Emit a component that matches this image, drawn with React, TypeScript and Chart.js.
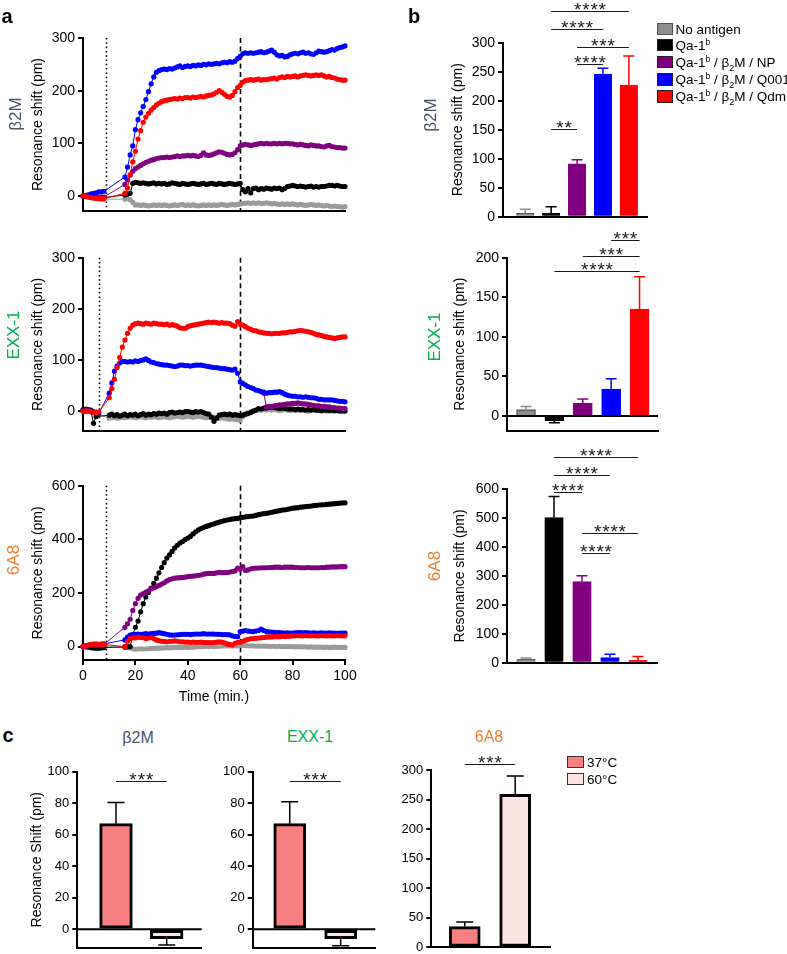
import React, { useEffect, useRef } from "react";
import { Chart, registerables } from "chart.js";

Chart.register(...registerables);

const FONT = '"Liberation Sans", Arial, Helvetica, sans-serif';

// ---------- a: binding traces, one reading per minute ----------
const minutes = [
  0, 1, 2, 3, 4, 5, 6, 7, 8, 9,
  10, 11, 12, 13, 14, 15, 16, 17, 18, 19,
  20, 21, 22, 23, 24, 25, 26, 27, 28, 29,
  30, 31, 32, 33, 34, 35, 36, 37, 38, 39,
  40, 41, 42, 43, 44, 45, 46, 47, 48, 49,
  50, 51, 52, 53, 54, 55, 56, 57, 58, 59,
  60, 61, 62, 63, 64, 65, 66, 67, 68, 69,
  70, 71, 72, 73, 74, 75, 76, 77, 78, 79,
  80, 81, 82, 83, 84, 85, 86, 87, 88, 89,
  90, 91, 92, 93, 94, 95, 96, 97, 98, 99,
  100,
];

// β2M antibody
const b2mNoAntigen = [
  0, -1, -2, -3, -4, -5, -5, -6, -6, null,
  null, null, null, null, null, null, -6, -5, -7, -12,
  -17, -17, -18, -17, -18, -19, -18, -17, -18, -17,
  -18, -17, -18, -19, -18, -17, -18, -17, -16, -18,
  -17, -18, -17, -18, -19, -18, -17, -18, -17, -18,
  -17, -18, -17, -16, -17, -18, -17, -16, -17, -16,
  -15, -14, -14, -13, -14, -13, -14, -13, -14, -14,
  -13, -14, -15, -14, -15, -16, -15, -16, -15, -16,
  -15, -16, -17, -16, -17, -18, -17, -16, -17, -18,
  -17, -18, -19, -18, -19, -20, -19, -20, -20, -21,
  -20,
];
const b2mQa1b = [
  0, 0, -1, -2, -2, -3, -3, -3, -3, null,
  null, null, null, null, null, null, 2, 4, 5, 24,
  26, 25, 24, 25, 24, 23, 24, 25, 23, 24,
  23, 24, 22, 23, 25, 24, 23, 22, 24, 23,
  22, 23, 24, 23, 22, 23, 24, 22, 23, 24,
  23, 22, 24, 23, 22, 23, 24, 23, 22, 23,
  24, 12, 8, 14, 6, 14, 15, 12, 14, 13,
  15, 14, 13, 15, 14, 15, 12, 14, 18, 19,
  20, 19, 18, 19, 18, 17, 18, 19, 17, 18,
  17, 18, 18, 19, 20, 20, 19, 20, 19, 18,
  18,
];
const b2mNP = [
  0, 0, 0, -1, -1, -2, -2, -2, -2, null,
  null, null, null, null, null, null, 22, 30, 40, 47,
  52, 55, 58, 61, 64, 66, 68, 69, 71, 72,
  73, 73, 74, 73, 74, 75, 76, 75, 76, 76,
  77, 76, 77, 76, 75, 77, 82, 78, 77, 78,
  80, 82, 84, 83, 81, 79, 78, 79, 82, 88,
  95, 97, 98, 97, 96, 97, 98, 99, 100, 99,
  100, 99, 99, 100, 99, 100, 99, 100, 100, 99,
  99, 98, 97, 98, 97, 96, 95, 97, 96, 95,
  95, 94, 93, 95, 96, 94, 93, 92, 92, 91,
  91,
];
const b2mQ001 = [
  0, 1, 2, 4, 5, 6, 8, 8, 9, null,
  null, null, null, null, null, null, 36, 55, 78, 95,
  126, 145, 158, 170, 183, 198, 213, 226, 235, 238,
  240, 241, 240, 242, 241, 243, 245, 247, 244, 246,
  247, 246, 248, 247, 249, 248, 250, 249, 251, 250,
  251, 252, 251, 253, 254, 253, 255, 254, 256, 261,
  265, 270, 272, 271, 272, 271, 272, 273, 274, 272,
  273, 275, 277, 273, 268, 266, 267, 264, 265, 268,
  270, 271, 270, 272, 273, 271, 272, 270, 269, 272,
  275, 274, 273, 274, 276, 278, 277, 280, 282, 283,
  285,
];
const b2mQdm = [
  0, 0, -2, -3, -4, -4, -5, -5, -5, null,
  null, null, null, null, null, null, 5, 15, 40, 65,
  85, 108, 124, 140, 150, 157, 163, 168, 173, 176,
  179, 181, 182, 183, 184, 185, 184, 186, 185, 187,
  187, 186, 188, 187, 188, 189, 188, 190, 191, 192,
  194, 197, 200, 197, 193, 189, 188, 191, 198, 206,
  210, 216, 219, 220, 221, 220, 221, 222, 220, 221,
  221, 222, 223, 224, 222, 225, 226, 225, 227, 226,
  227, 228, 226, 228, 229, 230, 229, 228, 229, 230,
  229, 230, 228, 226, 227, 225, 224, 222, 221, 220,
  220,
];

// EXX-1 antibody
const exxNoAntigen = [
  0, -1, 0, -2, -3, -5, null, null, null, null,
  -14, -13, -12, -14, -13, -12, -13, -12, -11, -12,
  -13, -12, -11, -12, -13, -11, -12, -11, -12, -13,
  -12, -11, -12, -13, -12, -11, -10, -11, -12, -11,
  -10, -11, -12, -11, -10, -11, -12, -13, -12, -13,
  -12, -13, -14, -13, -14, -15, -16, -15, -16, -17,
  -18, -11, -6, -3, -1, 0, 1, 2, 2, 3,
  2, 3, 2, 3, 2, 1, 2, 3, 2, 1,
  2, 1, 2, 1, 2, 1, 0, 1, 2, 1,
  1, 0, 1, 0, 1, 0, 0, 1, 0, -1,
  0,
];
const exxQa1b = [
  3, 4, 3, 2, -24, -11, null, null, null, null,
  -8, -6, -9, -7, -10, -8, -6, -9, -7, -8,
  -6, -9, -7, -5, -8, -6, -7, -5, -6, -4,
  -5, -4, -6, -3, -2, -4, -3, -2, -3, -1,
  -1, -2, -3, -1, -2, -1, -3, -5, -6, -12,
  -20, -14, -8, -7, -6, -7, -6, -8, -7, -8,
  -9, -8, -6, -5, -3, 0, 2, 5, 4, 6,
  6, 7, 8, 7, 6, 5, 6, 5, 4, 4,
  4, 3, 4, 3, 3, 2, 3, 2, 3, 2,
  2, 1, 2, 2, 1, 2, 1, 1, 0, 1,
  0,
];
const exxNP = [
  null, null, null, null, null, null, null, null, null, null,
  null, null, null, null, null, null, null, null, null, null,
  null, null, null, null, null, null, null, null, null, null,
  null, null, null, null, null, null, null, null, null, null,
  null, null, null, null, null, null, null, null, null, null,
  null, null, null, null, null, null, null, null, null, null,
  null, null, null, null, null, null, null, null, null, 35,
  8, 9, 8, 10, 11, 12, 12, 13, 14, 14,
  15, 15, 16, 15, 14, 14, 13, 12, 11, 10,
  10, 9, 9, 8, 8, 7, 7, 6, 6, 5,
  5,
];
const exxQ001 = [
  0, 0, 1, 0, -1, -2, -5, null, null, null,
  35, 55, 78, 88, 94, 97, 97, 96, 97, 96,
  98, 97, 99, 100, 102, 99, 96, 95, 93, 92,
  91, 90, 90, 89, 88, 87, 88, 90, 90, 89,
  89, 88, 89, 90, 90, 90, 89, 88, 87, 86,
  85, 85, 84, 83, 83, 82, 81, 80, 82, 74,
  57, 54, 51, 48, 46, 44, 41, 40, 38, 37,
  35, 36, 36, 37, 37, 38, 36, 33, 31, 30,
  29, 29, 28, 28, 27, 28, 27, 26, 26, 25,
  23, 23, 22, 22, 22, 22, 21, 20, 19, 19,
  18,
];
const exxQdm = [
  0, 1, 0, -1, -2, -3, -2, null, null, null,
  26, 44, 62, 85, 105, 125, 139, 152, 162, 168,
  171, 172, 171, 170, 172, 171, 170, 172, 171, 170,
  170, 169, 170, 168, 169, 168, 166, 163, 162, 162,
  165, 167, 168, 169, 170, 171, 172, 173, 174, 173,
  174, 173, 172, 173, 172, 172, 171, 168, 166, 175,
  170, 168, 165, 162, 160, 158, 157, 155, 154, 153,
  152, 152, 151, 152, 152, 152, 153, 153, 154, 155,
  155, 156, 157, 158, 157, 156, 155, 154, 152, 150,
  149, 148, 146, 145, 144, 143, 142, 143, 144, 145,
  145,
];

// 6A8 antibody
const mabNoAntigen = [
  0, 1, 2, 2, 3, 2, 3, 2, 2, null,
  null, null, null, null, null, null, 0, -2, -5, -8,
  -10, -9, -8, -9, -8, -8, -7, -7, -6, -6,
  -5, -5, -4, -4, -4, -3, -3, -3, -3, -2,
  -3, -2, -2, -1, -1, 0, 0, 1, 0, 1,
  0, 1, 2, 2, 3, 3, 3, 2, 3, 3,
  5, 4, 4, 3, 3, 3, 2, 2, 2, 2,
  2, 1, 1, 1, 0, 1, 0, 0, 0, 0,
  0, -1, 0, -1, -1, -1, -2, -1, -2, -2,
  -2, -2, -3, -2, -3, -3, -2, -3, -3, -3,
  -3,
];
const mabQa1b = [
  0, -1, -2, -4, -5, -6, -6, -5, -3, null,
  null, null, null, null, null, null, -2, -1, 0, 45,
  72, 95, 130, 160, 185, 202, 218, 236, 255, 275,
  295, 313, 330, 342, 355, 368, 378, 386, 392, 399,
  405, 411, 420, 428, 435, 440, 444, 448, 451, 455,
  458, 461, 464, 467, 470, 472, 474, 476, 477, 478,
  481, 482, 484, 485, 486, 487, 489, 492, 494, 496,
  497, 499, 501, 503, 505, 507, 509, 510, 512, 514,
  516, 517, 518, 520, 521, 522, 523, 524, 526, 527,
  528, 529, 529, 530, 531, 532, 533, 534, 535, 536,
  536,
];
const mabNP = [
  0, 2, 3, 5, 6, 5, 6, 7, 8, null,
  null, null, null, null, null, null, 72, 85, 102, 135,
  160, 180, 192, 198, 203, 208, 215, 219, 223, 228,
  233, 238, 245, 250, 253, 255, 256, 257, 258, 259,
  261, 262, 263, 264, 266, 267, 270, 272, 273, 273,
  273, 275, 277, 276, 276, 276, 278, 280, 282, 293,
  288, 298, 284, 286, 290, 292, 293, 293, 294, 294,
  294, 295, 295, 296, 296, 296, 295, 296, 296, 296,
  296, 295, 295, 294, 294, 294, 295, 294, 294, 294,
  294, 295, 295, 296, 296, 297, 297, 297, 298, 298,
  298,
];
const mabQ001 = [
  0, 3, 5, 7, 8, 9, 8, 9, 10, null,
  null, null, null, null, null, null, 25, 35, 43, 45,
  46, 47, 46, 47, 48, 47, 48, 49, 50, 52,
  50, 48, 46, 44, 43, 43, 44, 45, 46, 46,
  46, 45, 46, 47, 47, 47, 48, 47, 47, 47,
  47, 46, 46, 45, 45, 45, 44, 40, 38, 37,
  56, 58, 60, 58, 57, 56, 58, 60, 65, 60,
  56, 55, 54, 53, 52, 52, 51, 50, 51, 50,
  50, 51, 52, 52, 51, 52, 51, 50, 51, 50,
  50, 51, 50, 50, 51, 50, 50, 49, 50, 50,
  50,
];
const mabQdm = [
  0, 4, 6, 8, 9, 9, 8, 9, 8, null,
  null, null, null, null, null, null, 0, 20, 30, 33,
  32, 35, 34, 33, 30, 32, 34, 30, 25, 22,
  20, 19, 18, 19, 20, 21, 20, 18, 18, 17,
  17, 16, 17, 16, 16, 17, 16, 15, 15, 15,
  15, 17, 18, 17, 14, 10, 8, 6, 12, 16,
  16, 20, 24, 27, 29, 30, 31, 32, 33, 34,
  35, 36, 36, 37, 37, 37, 38, 38, 39, 39,
  40, 40, 41, 40, 40, 41, 40, 40, 41, 40,
  40, 41, 40, 40, 41, 40, 40, 41, 40, 40,
  40,
];

// injection (dotted) and wash (dashed) times, minutes
const injectionAt = [8.8, 6, 8.8];
const washAt = 60;

const traceTicks300 = [0, 100, 200, 300];
const traceTicks600 = [0, 200, 400, 600];
const timeTicks = [0, 20, 40, 60, 80, 100];

// ---------- b: end-point responses per antigen ----------
const groups = [
  "No antigen",
  "Qa-1b",
  "Qa-1b / β2M / NP",
  "Qa-1b / β2M / Q001",
  "Qa-1b / β2M / Qdm",
];
const groupFill = ["#8e8e8e", "#000000", "#800080", "#0000ff", "#ff0000"];
const groupEdge = ["#5e5e5e", "#000000", "#800080", "#0000ff", "#ff0000"];
const traceColor = ["#9b9b9b", "#000000", "#800080", "#0000ff", "#ff0000"];

const b2mMeans = [6, 6, 91, 246, 227];
const b2mSD = [7, 11, 7, 10, 50];
const exxMeans = [8, -6, 16, 34, 135];
const exxSD = [4, 2.5, 5.5, 13, 41];
const mabMeans = [12, 501, 280, 18, 8];
const mabSD = [4.5, 73, 20, 11, 13];

type Sig = { from: number; to: number; y: number; stars: string };
const b2mSig: Sig[] = [
  { from: 1, to: 4, y: 355, stars: "****" },
  { from: 1, to: 3, y: 323, stars: "****" },
  { from: 2, to: 4, y: 293, stars: "***" },
  { from: 2, to: 3, y: 263, stars: "****" },
  { from: 1, to: 2, y: 151, stars: "**" },
];
const exxSig: Sig[] = [
  { from: 3, to: 4, y: 222, stars: "***" },
  { from: 2, to: 4, y: 202.5, stars: "***" },
  { from: 1, to: 4, y: 182.6, stars: "****" },
];
const mabSig: Sig[] = [
  { from: 1, to: 4, y: 710, stars: "****" },
  { from: 1, to: 3, y: 649, stars: "****" },
  { from: 1, to: 2, y: 589, stars: "****" },
  { from: 2, to: 4, y: 447, stars: "****" },
  { from: 2, to: 3, y: 378, stars: "****" },
];

const b2mBarTicks = [0, 50, 100, 150, 200, 250, 300];
const exxBarTicks = [0, 50, 100, 150, 200];
const mabBarTicks = [0, 100, 200, 300, 400, 500, 600];

// ---------- c: heat treatment ----------
const temps = ["37°C", "60°C"];
const tempFill = ["#f98080", "#fde0e0"];
const heatB2m = [67, -6];
const heatB2mSD = [13.5, 4];
const heatExx = [67, -6];
const heatExxSD = [14, 4.5];
const heatMab = [35, 259];
const heatMabSD = [8, 31];
const heatB2mSig: Sig[] = [{ from: 0, to: 1, y: 94, stars: "***" }];
const heatExxSig: Sig[] = [{ from: 0, to: 1, y: 94, stars: "***" }];
const heatMabSig: Sig[] = [{ from: 0, to: 1, y: 310, stars: "***" }];
const heatTicks100 = [0, 20, 40, 60, 80, 100];
const heatTicks300 = [0, 50, 100, 150, 200, 250, 300];

const TITLE_COLORS = { b2m: "#44546a", exx: "#00b050", mab: "#ed7d31" };

// ---------- plugins ----------
function phaseLines(start: number, wash: number) {
  return {
    id: "phaseLines",
    beforeDatasetsDraw(chart: any) {
      const { ctx, chartArea, scales } = chart;
      const draw = (t: number, dash: number[]) => {
        const px = Math.round(scales.x.getPixelForValue(t)) + 0.5;
        ctx.save();
        ctx.strokeStyle = "#000";
        ctx.lineWidth = 1.6;
        ctx.setLineDash(dash);
        ctx.beginPath();
        ctx.moveTo(px, chartArea.top);
        ctx.lineTo(px, chartArea.bottom);
        ctx.stroke();
        ctx.restore();
      };
      draw(start, [1.5, 2.8]);
      draw(wash, [5, 3.5]);
    },
  };
}

function errorBars(means: number[], sds: number[], colors: string[], cap: number, width: number) {
  return {
    id: "errorBars",
    afterDatasetsDraw(chart: any) {
      const { ctx, scales } = chart;
      const meta = chart.getDatasetMeta(0);
      ctx.save();
      ctx.lineWidth = width;
      meta.data.forEach((bar: any, i: number) => {
        const v = means[i];
        const tip = v >= 0 ? v + sds[i] : v - sds[i];
        const y0 = scales.y.getPixelForValue(v);
        const y1 = scales.y.getPixelForValue(tip);
        ctx.strokeStyle = colors[i];
        ctx.beginPath();
        ctx.moveTo(bar.x, y0);
        ctx.lineTo(bar.x, y1);
        ctx.moveTo(bar.x - cap / 2, y1);
        ctx.lineTo(bar.x + cap / 2, y1);
        ctx.stroke();
      });
      ctx.restore();
    },
  };
}

const zeroLine = {
  id: "zeroLine",
  afterDatasetsDraw(chart: any) {
    const { ctx, chartArea, scales } = chart;
    const y = scales.y.getPixelForValue(0);
    ctx.save();
    ctx.strokeStyle = "#000";
    ctx.lineWidth = 2;
    ctx.beginPath();
    ctx.moveTo(chartArea.left, y);
    ctx.lineTo(chartArea.right, y);
    ctx.stroke();
    ctx.restore();
  },
};

function sigBrackets(marks: Sig[], st: { size: number; step: number; lift: number }) {
  return {
    id: "sigBrackets",
    afterDraw(chart: any) {
      const { ctx, scales } = chart;
      ctx.save();
      ctx.strokeStyle = "#1a1a1a";
      ctx.fillStyle = "#1a1a1a";
      ctx.lineWidth = 1;
      ctx.font = `${st.size}px ${FONT}`;
      ctx.textAlign = "center";
      ctx.textBaseline = "alphabetic";
      const m = ctx.measureText("*");
      const mid = (m.actualBoundingBoxAscent - m.actualBoundingBoxDescent) / 2;
      for (const mk of marks) {
        const x1 = scales.x.getPixelForValue(mk.from);
        const x2 = scales.x.getPixelForValue(mk.to);
        const y = Math.round(scales.y.getPixelForValue(mk.y)) + 0.5;
        ctx.beginPath();
        ctx.moveTo(x1, y);
        ctx.lineTo(x2, y);
        ctx.stroke();
        const n = mk.stars.length;
        const cx = (x1 + x2) / 2;
        const base = y - st.lift + mid;
        for (let k = 0; k < n; k++) {
          ctx.fillText("*", cx + (k - (n - 1) / 2) * st.step, base);
        }
      }
      ctx.restore();
    },
  };
}

// ---------- axis helpers ----------
function valueAxis(
  min: number,
  max: number,
  ticks: number[],
  width: number,
  fontSize: number,
  title?: string,
  titlePad?: number
) {
  return {
    min,
    max,
    afterBuildTicks: (a: any) => {
      a.ticks = ticks.map((v) => ({ value: v }));
    },
    afterFit: (a: any) => {
      a.width = width;
    },
    grid: { display: true, drawOnChartArea: false, drawTicks: true, tickLength: 5, color: "#000", lineWidth: 2 },
    border: { display: true, color: "#000", width: 2 },
    ticks: {
      color: "#000",
      font: { family: FONT, size: fontSize },
      padding: 3,
      autoSkip: false,
      callback: (v: any) => String(v),
    },
    title: {
      display: !!title,
      text: title || "",
      color: "#000",
      font: { family: FONT, size: 14 },
      padding: { top: titlePad || 0, bottom: 0 },
    },
  };
}

type Trace = { label: string; values: (number | null)[]; color: string };

function traceConfig(
  traces: Trace[],
  o: { yMin: number; yMax: number; yTicks: number[]; start: number; showTime: boolean; pad: number[]; xH: number }
) {
  return {
    type: "line",
    data: {
      datasets: traces.map((t) => ({
        label: t.label,
        data: minutes.map((m, i) => ({ x: m, y: t.values[i] })),
        borderColor: t.color,
        backgroundColor: t.color,
        pointBackgroundColor: t.color,
        borderWidth: 1,
        pointRadius: 2.6,
        pointHoverRadius: 2.6,
        pointBorderWidth: 0,
        spanGaps: true,
        tension: 0,
        clip: false,
      })),
    },
    options: {
      responsive: false,
      animation: false,
      devicePixelRatio: 1,
      events: [],
      layout: { padding: { left: 0, top: o.pad[0], right: o.pad[1], bottom: o.pad[2] } },
      plugins: { legend: { display: false }, tooltip: { enabled: false } },
      scales: {
        x: {
          type: "linear",
          min: 0,
          max: 100,
          afterBuildTicks: (a: any) => {
            a.ticks = (o.showTime ? timeTicks : []).map((v) => ({ value: v }));
          },
          afterFit: (a: any) => {
            a.height = o.xH;
          },
          grid: {
            display: o.showTime,
            drawOnChartArea: false,
            drawTicks: true,
            tickLength: 5,
            color: "#000",
            lineWidth: 2,
          },
          border: { display: true, color: "#000", width: 2 },
          ticks: {
            display: o.showTime,
            color: "#000",
            font: { family: FONT, size: 14 },
            padding: 3,
            autoSkip: false,
            maxRotation: 0,
            callback: (v: any) => String(v),
          },
          title: {
            display: o.showTime,
            text: "Time (min.)",
            color: "#000",
            font: { family: FONT, size: 14 },
            padding: { top: 0, bottom: 2 },
          },
        },
        y: valueAxis(o.yMin, o.yMax, o.yTicks, 83, 14, "Resonance shift (pm)", 29.6),
      },
    },
    plugins: [phaseLines(o.start, washAt)],
  };
}

function barConfig(o: {
  name: string;
  cats: string[];
  means: number[];
  sds: number[];
  fills: string[];
  edges: string[];
  edgeW: number;
  skip: any;
  errColors: string[];
  cap: number;
  barW: number;
  xMin: number;
  xMax: number;
  yMin: number;
  yMax: number;
  yTicks: number[];
  yW: number;
  tickSize: number;
  title?: string;
  titlePad?: number;
  pad: number[];
  marks: Sig[];
  star: { size: number; step: number; lift: number };
}) {
  const plugins: any[] = [errorBars(o.means, o.sds, o.errColors, o.cap, 1.5), sigBrackets(o.marks, o.star)];
  if (o.yMin < 0) plugins.push(zeroLine);
  return {
    type: "bar",
    data: {
      datasets: [
        {
          label: o.name,
          data: o.means.map((m, i) => ({ x: i, y: m, group: o.cats[i] })),
          backgroundColor: o.fills,
          borderColor: o.edges,
          borderWidth: o.edgeW,
          borderSkipped: o.skip,
          barThickness: o.barW,
        },
      ],
    },
    options: {
      responsive: false,
      animation: false,
      devicePixelRatio: 1,
      events: [],
      layout: { padding: { left: 0, top: o.pad[0], right: o.pad[1], bottom: o.pad[2] } },
      plugins: { legend: { display: false }, tooltip: { enabled: false } },
      scales: {
        x: {
          type: "linear",
          min: o.xMin,
          max: o.xMax,
          offset: false,
          afterFit: (a: any) => {
            a.height = 0;
          },
          grid: { display: false },
          ticks: { display: false },
          border: { display: true, color: "#000", width: 2 },
        },
        y: valueAxis(o.yMin, o.yMax, o.yTicks, o.yW, o.tickSize, o.title, o.titlePad),
      },
    },
    plugins,
  };
}

// ---------- components ----------
function ChartCanvas({ x, y, w, h, build }: { x: number; y: number; w: number; h: number; build: () => any }) {
  const ref = useRef<HTMLCanvasElement | null>(null);
  useEffect(() => {
    const chart = new Chart(ref.current as HTMLCanvasElement, build());
    return () => chart.destroy();
  }, []);
  return (
    <canvas
      ref={ref}
      width={w}
      height={h}
      style={{ position: "absolute", left: x, top: y, width: w, height: h }}
    />
  );
}

function Label({
  x,
  y,
  text,
  color = "#000",
  size,
  bold = false,
  rotate = false,
}: {
  x: number;
  y: number;
  text: string;
  color?: string;
  size: number;
  bold?: boolean;
  rotate?: boolean;
}) {
  return (
    <div
      style={{
        position: "absolute",
        left: x,
        top: y,
        transform: `translate(-50%, -50%)${rotate ? " rotate(-90deg)" : ""}`,
        color,
        fontSize: size,
        fontWeight: bold ? 700 : 400,
        fontFamily: FONT,
        lineHeight: 1,
        whiteSpace: "nowrap",
      }}
    >
      {text}
    </div>
  );
}

const supStyle: React.CSSProperties = { fontSize: 8.5, verticalAlign: "super", lineHeight: 0 };
const subStyle: React.CSSProperties = { fontSize: 9, verticalAlign: "sub", lineHeight: 0 };

function richGroup(text: string) {
  return text.split(/(Qa-1b|β2M)/).map((p, i) => {
    if (p === "Qa-1b")
      return (
        <span key={i}>
          Qa-1<sup style={supStyle}>b</sup>
        </span>
      );
    if (p === "β2M")
      return (
        <span key={i}>
          β<sub style={subStyle}>2</sub>M
        </span>
      );
    return <span key={i}>{p}</span>;
  });
}

function LegendRow({
  x,
  cy,
  fill,
  edge,
  boxW,
  children,
}: {
  x: number;
  cy: number;
  fill: string;
  edge: string;
  boxW: number;
  children: any;
}) {
  return (
    <div
      style={{
        position: "absolute",
        left: x,
        top: cy - 8,
        height: 16,
        display: "flex",
        alignItems: "center",
        fontFamily: FONT,
        fontSize: 13.5,
        color: "#000",
        whiteSpace: "nowrap",
      }}
    >
      <div
        style={{
          width: boxW,
          height: 12.5,
          boxSizing: "border-box",
          border: `1.5px solid ${edge}`,
          background: fill,
          marginRight: 3,
          flex: "none",
        }}
      />
      <span>{children}</span>
    </div>
  );
}

const bStar = { size: 19, step: 8.2, lift: 5.5 };
const cStar = { size: 19, step: 8.3, lift: 5.3 };

export default function App() {
  const b2mTraces: Trace[] = [
    { label: groups[4], values: b2mQdm, color: traceColor[4] },
    { label: groups[3], values: b2mQ001, color: traceColor[3] },
    { label: groups[2], values: b2mNP, color: traceColor[2] },
    { label: groups[1], values: b2mQa1b, color: traceColor[1] },
    { label: groups[0], values: b2mNoAntigen, color: traceColor[0] },
  ];
  const exxTraces: Trace[] = [
    { label: groups[4], values: exxQdm, color: traceColor[4] },
    { label: groups[3], values: exxQ001, color: traceColor[3] },
    { label: groups[2], values: exxNP, color: traceColor[2] },
    { label: groups[1], values: exxQa1b, color: traceColor[1] },
    { label: groups[0], values: exxNoAntigen, color: traceColor[0] },
  ];
  const mabTraces: Trace[] = [
    { label: groups[4], values: mabQdm, color: traceColor[4] },
    { label: groups[3], values: mabQ001, color: traceColor[3] },
    { label: groups[2], values: mabNP, color: traceColor[2] },
    { label: groups[1], values: mabQa1b, color: traceColor[1] },
    { label: groups[0], values: mabNoAntigen, color: traceColor[0] },
  ];

  const groupBar = {
    cats: groups,
    fills: groupFill,
    edges: groupEdge,
    edgeW: 1.5,
    skip: "start",
    errColors: groupFill,
    cap: 11,
    tickSize: 14,
    title: "Resonance shift (pm)",
    star: bStar,
  };
  const heatBar = {
    cats: temps,
    fills: tempFill,
    edges: ["#000", "#000"],
    edgeW: 3,
    skip: false,
    errColors: ["#000", "#000"],
    cap: 17,
    tickSize: 13,
    star: cStar,
  };

  return (
    <div
      style={{
        position: "absolute",
        left: 0,
        top: 0,
        width: 787,
        height: 954,
        overflow: "hidden",
        background: "#fff",
        fontFamily: FONT,
      }}
    >
      {/* a: kinetics */}
      <ChartCanvas
        x={0}
        y={20}
        w={365}
        h={203}
        build={() =>
          traceConfig(b2mTraces, {
            yMin: -28.5,
            yMax: 300,
            yTicks: traceTicks300,
            start: injectionAt[0],
            showTime: false,
            pad: [18, 20, 12],
            xH: 0,
          })
        }
      />
      <ChartCanvas
        x={0}
        y={240}
        w={365}
        h={203}
        build={() =>
          traceConfig(exxTraces, {
            yMin: -39,
            yMax: 300,
            yTicks: traceTicks300,
            start: injectionAt[1],
            showTime: false,
            pad: [17.7, 20, 12],
            xH: 0,
          })
        }
      />
      <ChartCanvas
        x={0}
        y={468}
        w={365}
        h={245}
        build={() =>
          traceConfig(mabTraces, {
            yMin: -50,
            yMax: 600,
            yTicks: traceTicks600,
            start: injectionAt[2],
            showTime: true,
            pad: [17.7, 20, 5],
            xH: 48,
          })
        }
      />

      {/* b: end-point bars */}
      <ChartCanvas
        x={420}
        y={0}
        w={240}
        h={229}
        build={() =>
          barConfig({
            ...groupBar,
            name: "β2M",
            means: b2mMeans,
            sds: b2mSD,
            barW: 17.5,
            xMin: -0.86,
            xMax: 4.7,
            yMin: 0,
            yMax: 300,
            yTicks: b2mBarTicks,
            yW: 83,
            titlePad: 29.6,
            pad: [42.7, 13, 12.3],
            marks: b2mSig,
          })
        }
      />
      <ChartCanvas
        x={420}
        y={225}
        w={250}
        h={218}
        build={() =>
          barConfig({
            ...groupBar,
            name: "EXX-1",
            means: exxMeans,
            sds: exxSD,
            barW: 19,
            xMin: -0.67,
            xMax: 4.65,
            yMin: -18.6,
            yMax: 200,
            yTicks: exxBarTicks,
            yW: 87,
            titlePad: 31.6,
            pad: [32.7, 12, 12.3],
            marks: exxSig,
          })
        }
      />
      <ChartCanvas
        x={420}
        y={440}
        w={250}
        h={235}
        build={() =>
          barConfig({
            ...groupBar,
            name: "6A8",
            means: mabMeans,
            sds: mabSD,
            barW: 18.5,
            xMin: -0.68,
            xMax: 4.68,
            yMin: 0,
            yMax: 600,
            yTicks: mabBarTicks,
            yW: 87,
            titlePad: 31.6,
            pad: [49, 13, 12.3],
            marks: mabSig,
          })
        }
      />

      {/* c: heat treatment */}
      <ChartCanvas
        x={0}
        y={755}
        w={210}
        h={205}
        build={() =>
          barConfig({
            ...heatBar,
            name: "β2M",
            means: heatB2m,
            sds: heatB2mSD,
            barW: 32.7,
            xMin: -0.763,
            xMax: 1.69,
            yMin: -11.7,
            yMax: 100,
            yTicks: heatTicks100,
            yW: 77.3,
            title: "Resonance Shift (pm)",
            titlePad: 28.3,
            pad: [16.7, 8.3, 12.3],
            marks: heatB2mSig,
          })
        }
      />
      <ChartCanvas
        x={215}
        y={755}
        w={170}
        h={205}
        build={() =>
          barConfig({
            ...heatBar,
            name: "EXX-1",
            means: heatExx,
            sds: heatExxSD,
            barW: 32,
            xMin: -0.727,
            xMax: 1.68,
            yMin: -11.7,
            yMax: 100,
            yTicks: heatTicks100,
            yW: 37.7,
            pad: [16.7, 9.7, 12.3],
            marks: heatExxSig,
          })
        }
      />
      <ChartCanvas
        x={390}
        y={740}
        w={170}
        h={220}
        build={() =>
          barConfig({
            ...heatBar,
            name: "6A8",
            means: heatMab,
            sds: heatMabSD,
            barW: 31,
            xMin: -0.663,
            xMax: 1.69,
            yMin: 0,
            yMax: 300,
            yTicks: heatTicks300,
            yW: 41.3,
            pad: [30, 10, 12.7],
            marks: heatMabSig,
          })
        }
      />

      {/* panel letters */}
      <Label x={7} y={16} text="a" size={20} bold />
      <Label x={414} y={16} text="b" size={20} bold />
      <Label x={8} y={735} text="c" size={20} bold />

      {/* antibody row labels */}
      <Label x={15} y={114} text="β2M" size={17} color={TITLE_COLORS.b2m} rotate />
      <Label x={13} y={335} text="EXX-1" size={17} color={TITLE_COLORS.exx} rotate />
      <Label x={13} y={560} text="6A8" size={17} color={TITLE_COLORS.mab} rotate />
      <Label x={430} y={115} text="β2M" size={17} color={TITLE_COLORS.b2m} rotate />
      <Label x={434} y={337} text="EXX-1" size={17} color={TITLE_COLORS.exx} rotate />
      <Label x={434} y={566} text="6A8" size={17} color={TITLE_COLORS.mab} rotate />

      {/* heat-treatment titles */}
      <Label x={138} y={738} text="β2M" size={16} color={TITLE_COLORS.b2m} />
      <Label x={310} y={737} text="EXX-1" size={16} color={TITLE_COLORS.exx} />
      <Label x={489} y={737} text="6A8" size={16} color={TITLE_COLORS.mab} />

      {/* antigen legend */}
      {groups.map((g, i) => (
        <LegendRow
          key={g}
          x={657}
          cy={[29, 45, 62, 79.7, 96.3][i]}
          fill={groupFill[i]}
          edge={i === 0 ? "#555" : "#222"}
          boxW={15.5}
        >
          {richGroup(g)}
        </LegendRow>
      ))}

      {/* temperature legend */}
      {temps.map((t, i) => (
        <LegendRow key={t} x={567} cy={[762, 779][i]} fill={tempFill[i]} edge="#333" boxW={17}>
          {t}
        </LegendRow>
      ))}
    </div>
  );
}
